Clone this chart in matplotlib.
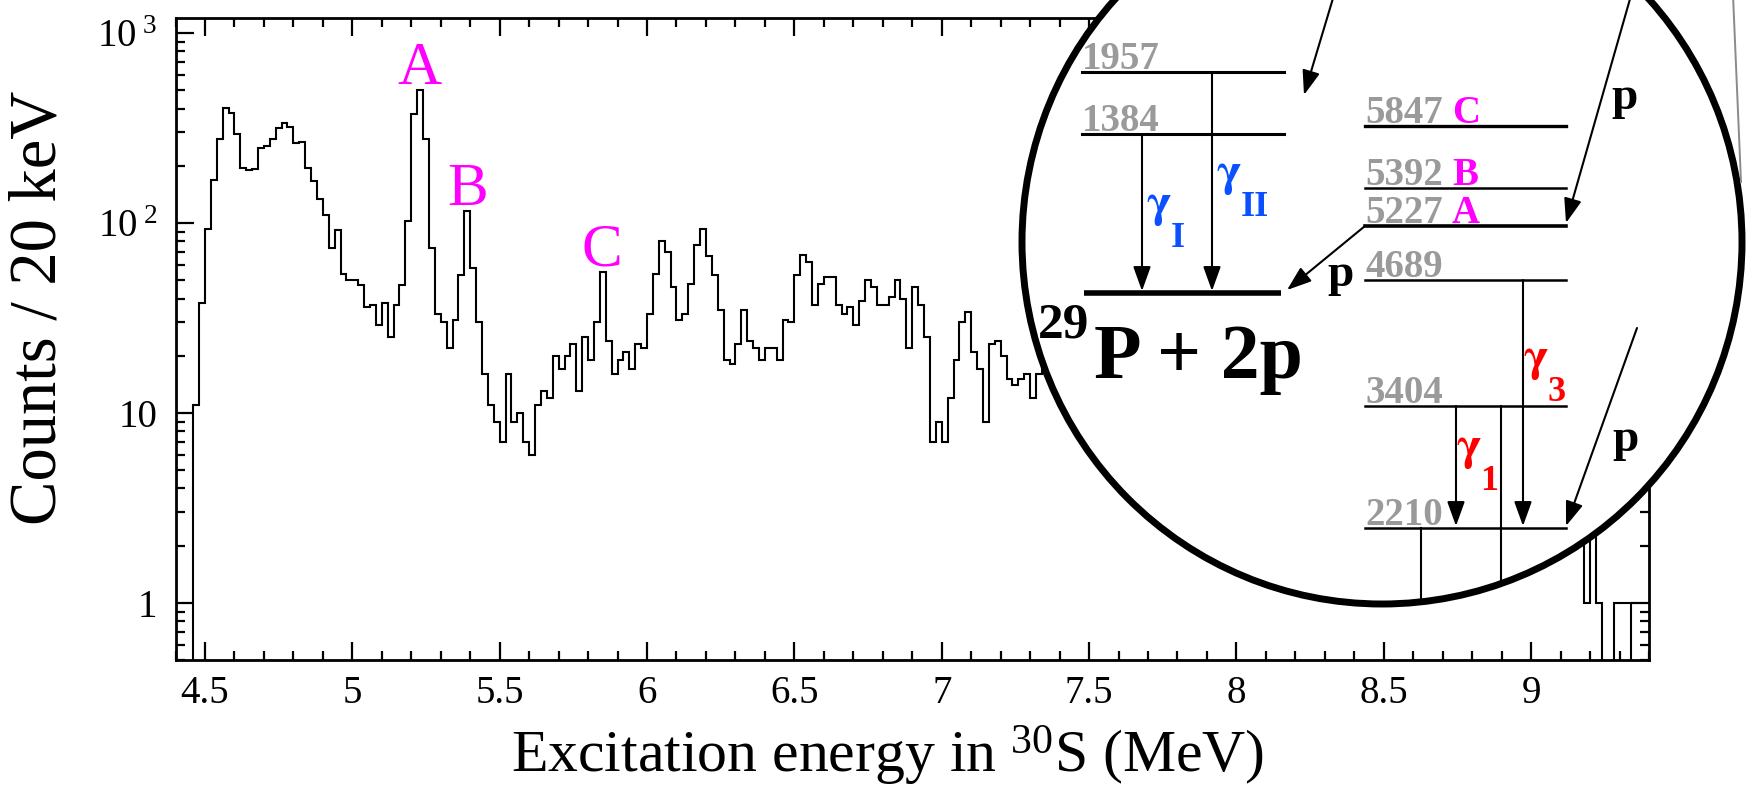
import numpy as np
import matplotlib.pyplot as plt
from matplotlib.patches import Ellipse
from matplotlib.ticker import MultipleLocator, LogLocator, NullFormatter, FixedLocator, FixedFormatter

plt.rcParams['font.family'] = ['Liberation Serif', 'DejaVu Serif']
plt.rcParams['mathtext.fontset'] = 'custom'
plt.rcParams['mathtext.rm'] = 'Liberation Serif'
plt.rcParams['mathtext.it'] = 'Liberation Serif:italic'
plt.rcParams['mathtext.bf'] = 'Liberation Serif:bold'

# excitation energy spectrum, 20 keV bins from 4.40 to 9.40 MeV
e_min, e_max = 4.40, 9.40
counts = [
    0, 0, 0,
    11, 38, 93, 169, 278, 402, 378, 293, 194, 190, 192, 249, 254, 278, 318, 335,
    321, 264, 268, 195, 167, 134, 110, 74, 92, 54, 50, 50, 47, 36, 37, 29, 38, 25,
    37, 47, 103, 374, 501, 278, 74, 33, 30, 22, 31, 53, 115, 58, 30, 16, 11, 9,
    7,
    16, 9, 10, 7, 6, 11, 13, 12, 20, 17, 20, 23, 13, 25, 19, 30, 55, 24, 16, 19,
    21, 17, 23, 22, 33, 54, 80, 70, 46, 31, 33, 48, 77, 93, 67, 53, 35, 19, 18, 23,
    35, 24, 22, 19, 22, 22, 19, 31, 30, 53, 68, 62, 37,
    48, 52, 52, 37, 33, 36, 29, 39, 50, 46, 37, 37, 41, 50, 40, 22, 46, 37, 25, 7,
    9, 7, 12, 19, 30, 34, 21, 17, 9, 23, 24, 20, 15, 14, 15, 16, 12,
    16, 20, 24, 19, 18, 14, 16, 13, 15,
    12, 14, 11, 13, 10, 12, 9, 11, 10, 12,
    9, 10, 8, 11, 9, 8, 10, 7, 9, 8, 7, 9, 8, 6, 8,
    7, 6, 8, 7, 6, 5, 7, 6, 5, 7, 6, 5, 6, 4, 6, 5, 4, 6, 5, 4, 5, 6, 4, 5, 4,
    5, 4, 4, 5, 3, 4, 5, 3, 4, 4, 3, 5, 3, 4, 3, 4, 3, 3, 4, 3, 4, 3, 3, 4, 3,
    3, 4, 3, 3, 4, 3, 3, 4, 3,
    1, 3, 1, 0, 0, 1, 1, 1, 0, 0, 0,
]
edges = np.linspace(e_min, e_max, len(counts) + 1)

# resonances marked on the spectrum (MeV)
peak_tags = ['A', 'B', 'C']
peak_energy = [5.227, 5.392, 5.847]

# level scheme
levels_29p = ['1957', '1384']
levels_30s = ['5847', '5392', '5227', '4689', '3404', '2210']
level_tag = {'5847': 'C', '5392': 'B', '5227': 'A'}

magenta = '#ff00ff'
grey = '#9a9a9a'
blue = '#0a50ff'
red = '#ff0000'

W, H = 1752, 807
fig = plt.figure(figsize=(W / 100, H / 100), dpi=100)
ax = fig.add_axes([175.5 / W, 147 / H, (1649 - 175.5) / W, (660 - 18) / H])

ax.stairs(counts, edges, baseline=None, color='k', lw=1.5)
ax.set_yscale('log')
ax.set_xlim(e_min, e_max)
ax.set_ylim(0.5, 1200)

ax.xaxis.set_major_locator(MultipleLocator(0.5))
ax.xaxis.set_minor_locator(MultipleLocator(0.1))
ax.xaxis.set_major_formatter(plt.FuncFormatter(lambda v, p: '%g' % v))
ax.yaxis.set_major_locator(FixedLocator([1, 10, 100, 1000]))
ax.yaxis.set_major_formatter(FixedFormatter(['1', '10', r'$10^{\ 2}$', r'$10^{\ 3}$']))
ax.yaxis.set_minor_locator(LogLocator(base=10, subs=np.arange(2, 10)))
ax.yaxis.set_minor_formatter(NullFormatter())

ax.tick_params(which='both', direction='in', top=True, right=True, width=1.6, labelsize=28)
ax.tick_params(which='major', length=13)
ax.tick_params(which='minor', length=6.5)
ax.tick_params(axis='x', pad=11)
ax.tick_params(axis='y', pad=13)
for s in ax.spines.values():
    s.set_linewidth(2.0)

for tag, e in zip(peak_tags, peak_energy):
    i = np.searchsorted(edges, e) - 1
    ax.text(e, counts[i] * 1.08, tag, color=magenta, fontsize=44, ha='center', va='baseline')

fig.text(39 / W, 1 - 308 / H, 'Counts / 20 keV', rotation=90, ha='center', va='center', fontsize=48)
fig.text(888 / W, 1 - 772 / H, r'Excitation energy in $^{30}$S (MeV)', ha='center', va='baseline', fontsize=43)

# inset level scheme, drawn in pixel units over the spectrum
ov = fig.add_axes([0, 0, 1, 1], zorder=5)
ov.set_xlim(0, W)
ov.set_ylim(H, 0)
ov.axis('off')
ov.patch.set_alpha(0)

ov.plot([1733, 1741], [-5, 182], color='#8a8a8a', lw=1.4)

ring = Ellipse((1382, 242), 720, 724, facecolor='white', edgecolor='k', lw=5, clip_on=False)
ov.add_patch(ring)

left_x = (1082, 1284)
right_x = (1365, 1566)
y_29p = {'1957': 72, '1384': 134}
y_gs = 293
y_30s = {'5847': 126, '5392': 188, '5227': 226, '4689': 280, '3404': 406, '2210': 528}
lw_30s = {'5847': 2.4, '5392': 1.8, '5227': 2.6, '4689': 1.8, '3404': 1.8, '2210': 1.8}

for name in levels_29p:
    y = y_29p[name]
    ov.plot(left_x, [y, y], color='k', lw=2.2)
    ov.text(left_x[0], y - 3, name, color=grey, fontsize=28, fontweight='bold', ha='left', va='baseline')
ov.plot([1084, 1281], [y_gs, y_gs], color='k', lw=4, solid_capstyle='butt')

for name in levels_30s:
    y = y_30s[name]
    ov.plot(right_x, [y, y], color='k', lw=lw_30s[name])
    ov.text(right_x[0], y - 3, name, color=grey, fontsize=28, fontweight='bold', ha='left', va='baseline')
    if name in level_tag:
        ov.text(1452, y - 3, level_tag[name], color=magenta, fontsize=28, fontweight='bold',
                ha='left', va='baseline')

ov.text(1038, 337, '29', fontsize=37, fontweight='bold', ha='left', va='baseline')
ov.text(1094, 378, 'P + 2p', fontsize=56, fontweight='bold', ha='left', va='baseline')


def arrow(x0, y0, x1, y1):
    ov.annotate('', xy=(x1, y1), xytext=(x0, y0), annotation_clip=False,
                arrowprops=dict(arrowstyle='-|>,head_length=0.5,head_width=0.18', lw=1.5, color='k',
                                mutation_scale=30, shrinkA=0, shrinkB=0))


arrow(1142, 134, 1142, 291)
arrow(1212, 72, 1212, 291)
arrow(1365, 226, 1287, 290)
arrow(1337, -15, 1304, 95)
arrow(1634, -15, 1566, 223)
arrow(1523, 280, 1523, 526)
arrow(1456, 406, 1456, 526)
arrow(1637, 328, 1566, 526)

for x, y in [(1501, 406), (1421, 528)]:
    ln, = ov.plot([x, x], [y, 700], color='k', lw=1.5)
    ln.set_clip_path(ring)

ov.text(1327, 286, 'p', fontsize=34, fontweight='bold', ha='left', va='baseline')
ov.text(1611, 109, 'p', fontsize=34, fontweight='bold', ha='left', va='baseline')
ov.text(1612, 451, 'p', fontsize=34, fontweight='bold', ha='left', va='baseline')


def gamma(x, y, sub, color):
    g = ov.text(x, y, '\u03b3', color=color, fontsize=34, fontweight='bold', family='STIXGeneral',
                ha='left', va='baseline')
    # subscript set just past the advance of the gamma glyph
    ov.annotate(sub, xy=(1, 0), xycoords=g, xytext=(0, -15), textcoords='offset points',
                color=color, fontsize=26, fontweight='bold', ha='left', va='baseline')


gamma(1146, 216, 'I', blue)
gamma(1216, 185, 'II', blue)
gamma(1523, 370, '3', red)
gamma(1456, 459, '1', red)

fig.savefig('out.png', dpi=100)
